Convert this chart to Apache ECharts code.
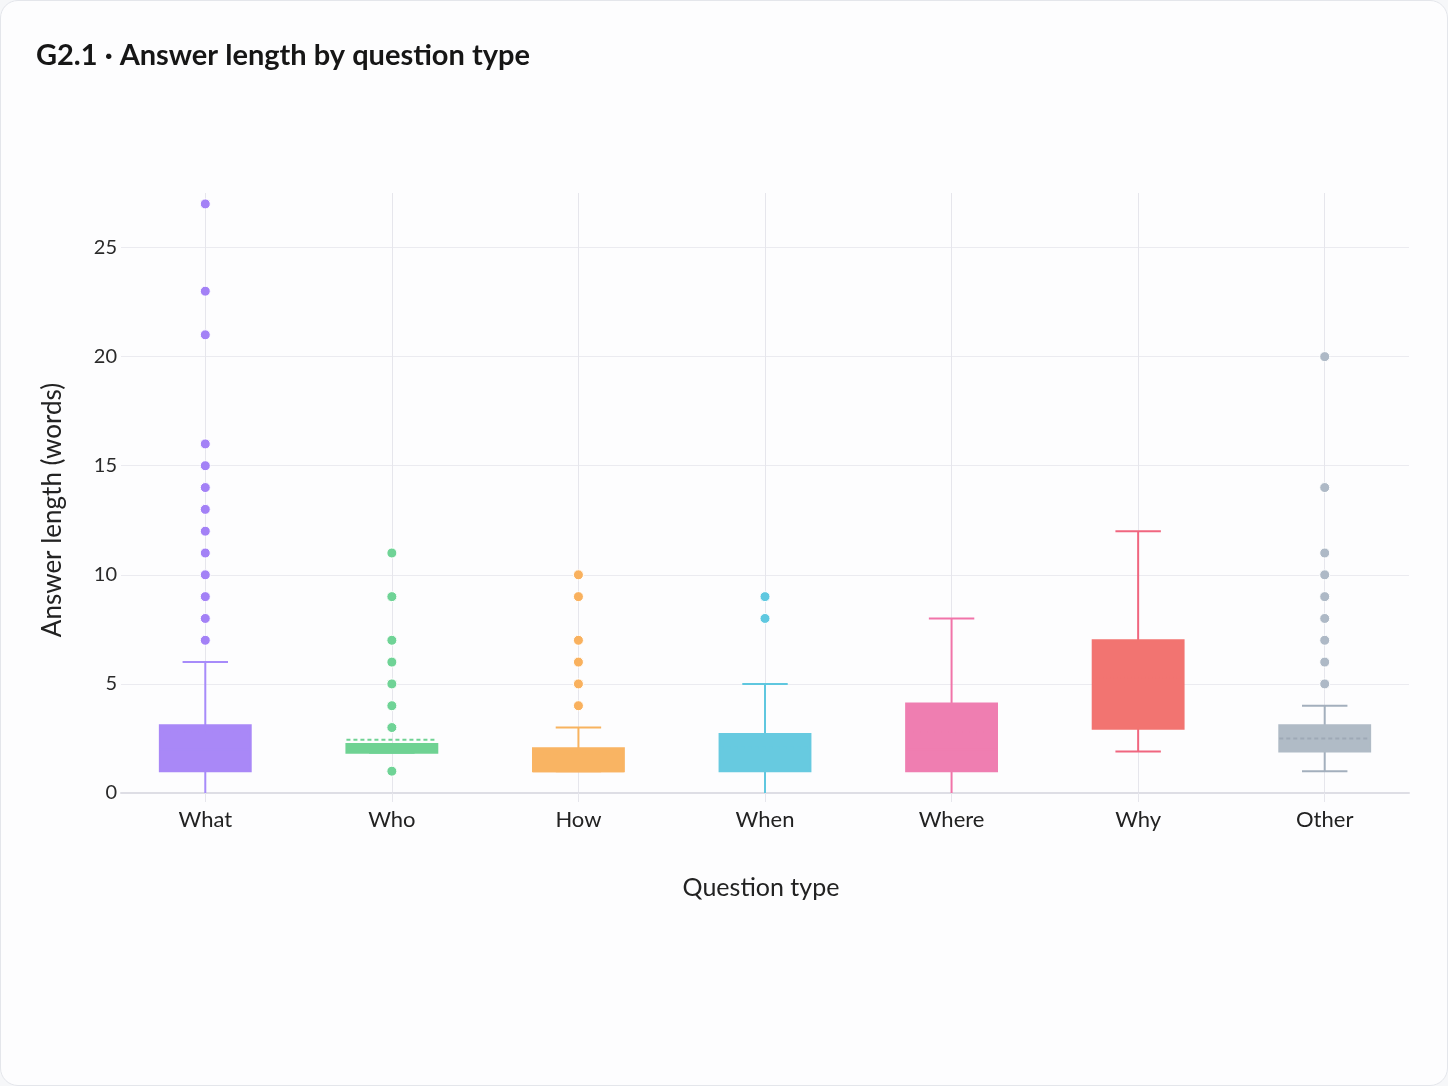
<!DOCTYPE html>
<html>
<head>
<meta charset="utf-8">
<title>G2.1 · Answer length by question type</title>
<script src="https://cdn.jsdelivr.net/npm/echarts@6/dist/echarts.min.js"></script>
<style>
html, body { margin: 0; padding: 0; background: #f6f7f9; }
#card { width: 1448px; height: 1086px; box-sizing: border-box; border: 1px solid #e4e6eb; border-radius: 18px; background: #fdfdfe; overflow: hidden; }
#chart { width: 100%; height: 100%; }
</style>
</head>
<body>
<div id="card"><div id="chart"></div></div>
<script>
// question types along x
var categories = ['What', 'Who', 'How', 'When', 'Where', 'Why', 'Other'];

// box stats (words)
var whiskerLow  = [0,   1.85, 1,    0,   0,   1.9,  1];
var q1          = [1,   1.85, 1,    1,   1,   2.95, 1.9];
var median      = [2,   2,    1,    2,   2,   5,    2];
var q3          = [3.1, 2.25, 2.05, 2.7, 4.1, 7,    3.1];
var whiskerHigh = [6,   2.25, 3,    5,   8,   12,   4];
var means       = [2.8, 2.44, 1.8,  2.1, 2.8, 5.3,  2.5];

// outlier points per type
var outWhat  = [7, 8, 9, 10, 11, 12, 13, 14, 15, 16, 21, 23, 27];
var outWho   = [1, 3, 4, 5, 6, 7, 9, 11];
var outHow   = [4, 5, 6, 7, 9, 10];
var outWhen  = [8, 9];
var outWhere = [];
var outWhy   = [];
var outOther = [5, 6, 7, 8, 9, 10, 11, 14, 20];

var yTicks = [0, 5, 10, 15, 20, 25];

var lineColors = ['#a78bfa', '#6dd396', '#f8b35f', '#5fc7df', '#f174a9', '#f0667f', '#a3afbd'];
var fillColors = ['#a988f7', '#6fd293', '#f9b463', '#67cae0', '#ef7eb1', '#f27471', '#b0bbc6'];
var meanColors = ['#a988f7', '#6fd293', '#f9b463', '#67cae0', '#ef7eb1', '#f27471', '#9ea9b6'];
var dotColors  = ['#a381f6', '#6fd396', '#f9b15e', '#5fc8e0', '#f174a9', '#f0667f', '#aeb9c6'];

var boxData = categories.map(function (c, i) {
    return [i, whiskerLow[i], q1[i], median[i], q3[i], whiskerHigh[i], means[i]];
});

var outliers = [outWhat, outWho, outHow, outWhen, outWhere, outWhy, outOther];
var pointData = [];
outliers.forEach(function (list, i) {
    list.forEach(function (v) { pointData.push([i, v]); });
});

function renderBox(params, api) {
    var i = api.value(0);
    var lo = api.value(1), b1 = api.value(2), md = api.value(3),
        b3 = api.value(4), hi = api.value(5), mn = api.value(6);
    var cx = api.coord([i, 0])[0];
    var band = api.size([1, 0])[0];
    var bw = band * 0.487;
    var cw = bw / 2;
    var y = function (v) { return api.coord([i, v])[1]; };
    var lc = lineColors[i], fc = fillColors[i];
    var kids = [
        { type: 'line', shape: { x1: cx, y1: y(b3), x2: cx, y2: y(hi) }, style: { stroke: lc, lineWidth: 2 } },
        { type: 'line', shape: { x1: cx, y1: y(b1), x2: cx, y2: y(lo) }, style: { stroke: lc, lineWidth: 2 } }
    ];
    if (hi > 0) kids.push({ type: 'line', shape: { x1: cx - cw / 2, y1: y(hi), x2: cx + cw / 2, y2: y(hi) }, style: { stroke: lc, lineWidth: 2 } });
    if (lo > 0) kids.push({ type: 'line', shape: { x1: cx - cw / 2, y1: y(lo), x2: cx + cw / 2, y2: y(lo) }, style: { stroke: lc, lineWidth: 2 } });
    kids.push({ type: 'rect', shape: { x: cx - bw / 2, y: y(b3), width: bw, height: Math.max(y(b1) - y(b3), 1) }, style: { fill: fc, stroke: fc, lineWidth: 2 } });
    kids.push({ type: 'line', shape: { x1: cx - bw / 2, y1: y(md), x2: cx + bw / 2, y2: y(md) }, style: { stroke: fc, lineWidth: 2 } });
    kids.push({ type: 'line', shape: { x1: cx - bw / 2, y1: y(mn), x2: cx + bw / 2, y2: y(mn) }, style: { stroke: meanColors[i], lineWidth: 2, lineDash: [4, 3] } });
    return { type: 'group', children: kids };
}

var chart = echarts.init(document.getElementById('chart'));
chart.setOption({
    animation: false,
    textStyle: { fontFamily: 'Lato, "Noto Sans", sans-serif' },
    title: {
        text: 'G2.1 · Answer length by question type',
        left: 30,
        top: 35,
        textStyle: { fontFamily: 'Lato', fontWeight: 'bold', fontSize: 29, color: '#161616' }
    },
    grid: [
        { left: 120, right: 38, top: 192, bottom: 292 },
        { left: 111, right: 29, top: 192, bottom: 292 }
    ],
    xAxis: [
        {
            gridIndex: 0, type: 'value', min: 0, max: 1,
            axisLabel: { show: false }, axisTick: { show: false }, splitLine: { show: false },
            axisLine: { show: true, lineStyle: { color: '#dedee5', width: 2 } }
        },
        {
            gridIndex: 1, type: 'category', data: categories, boundaryGap: true,
            axisLine: { show: false },
            axisTick: { show: true, alignWithLabel: true, length: 9, lineStyle: { color: '#e6e6ec' } },
            splitLine: { show: true, alignWithLabel: true, lineStyle: { color: '#e6e6ec', width: 1 } },
            axisLabel: { fontSize: 22, color: '#222', margin: 16 },
            name: 'Question type', nameLocation: 'middle', nameGap: 82,
            nameTextStyle: { fontSize: 25, color: '#222', padding: [0, 8, 0, 0] }
        }
    ],
    yAxis: [
        {
            gridIndex: 0, type: 'value', min: 0, max: 27.5, interval: 5,
            axisLine: { show: false }, axisTick: { show: false },
            axisLabel: {
                fontSize: 20, color: '#2a2a2a', margin: 4, showMaxLabel: false,
                formatter: function (v) { return yTicks.indexOf(v) >= 0 ? String(v) : ''; }
            },
            splitLine: { lineStyle: { color: ['#dedee5', '#ebebf0', '#ebebf0', '#ebebf0', '#ebebf0', '#ebebf0', 'transparent'], width: 1 } },
            name: 'Answer length (words)', nameLocation: 'middle', nameGap: 55,
            nameTextStyle: { fontSize: 26, color: '#222', padding: [0, 34, 0, 0] }
        },
        { gridIndex: 1, type: 'value', min: 0, max: 27.5, show: false }
    ],
    series: [
        {
            type: 'custom',
            xAxisIndex: 1, yAxisIndex: 1,
            renderItem: renderBox,
            encode: { x: 0, y: [1, 2, 3, 4, 5] },
            data: boxData,
            z: 3
        },
        {
            type: 'scatter',
            xAxisIndex: 1, yAxisIndex: 1,
            symbolSize: 10,
            data: pointData,
            itemStyle: {
                color: function (p) { return dotColors[p.data[0]]; },
                borderColor: '#ffffff', borderWidth: 1, opacity: 1
            },
            z: 4
        }
    ]
});
</script>
</body>
</html>
